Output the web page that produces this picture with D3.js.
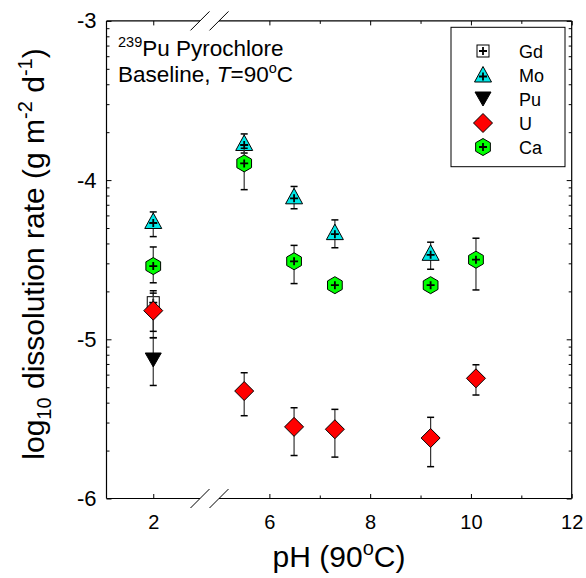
<!DOCTYPE html>
<html><head><meta charset="utf-8">
<script src="https://cdn.jsdelivr.net/npm/d3@7/dist/d3.min.js"></script>
<style>body{margin:0;background:#fff} svg{display:block} text{font-family:"Liberation Sans", Arial, sans-serif}</style>
</head><body><svg id="c" width="586" height="578"></svg>
<script>
// ---------- data (log10 dissolution rate, g m^-2 d^-1) ----------
const gdPH = [2.0];
const gdRate = [-4.77];
const gdHi = [-4.695];
const gdLo = [-4.99];

const moPH = [2.0, 5.5, 6.49, 7.3, 9.2];
const moRate = [-4.26, -3.77, -4.105, -4.33, -4.46];
const moHi = [-4.20, -3.71, -4.04, -4.25, -4.39];
const moLo = [-4.355, -3.83, -4.18, -4.425, -4.56];

const puPH = [2.0];
const puRate = [-5.13];
const puHi = [-4.99];
const puLo = [-5.29];

const uPH = [2.0, 5.5, 6.49, 7.3, 9.2, 10.1];
const uRate = [-4.82, -5.325, -5.55, -5.565, -5.62, -5.245];
const uHi = [-4.71, -5.21, -5.43, -5.44, -5.49, -5.16];
const uLo = [-4.95, -5.48, -5.73, -5.74, -5.80, -5.35];

const caPH = [2.0, 5.5, 6.49, 7.3, 9.2, 10.1];
const caRate = [-4.54, -3.895, -4.51, -4.66, -4.66, -4.50];
const caHi = [-4.42, -3.80, -4.41, null, null, -4.365];
const caLo = [-4.645, -4.06, -4.65, null, null, -4.69];

const seriesNames = ["Gd", "Mo", "Pu", "U", "Ca"];
const xTicksLeft = [2];
const xTicksRight = [6, 8, 10, 12];
const xMinorRight = [7, 9, 11];
const yTicks = [-6, -5, -4, -3];
const yDecades = [-6, -5, -4];
const yMinorMult = [2, 3, 4, 5, 6, 7, 8, 9];

// ---------- layout ----------
const svg = d3.select("#c");
const plot = {left: 106.5, right: 571.7, top: 20.9, bottom: 498.5};
const breakStart = 200, breakEnd = 219;
const xL = d3.scaleLinear().domain([1, 3]).range([plot.left, breakStart]);
const xR = d3.scaleLinear().domain([5, 12]).range([breakEnd, plot.right]);
const x = v => v <= 3 ? xL(v) : xR(v);
const y = d3.scaleLinear().domain([-6, -3]).range([plot.bottom, plot.top]);
const yMinor = [];
yDecades.forEach(d => yMinorMult.forEach(k => yMinor.push(d + Math.log10(k))));

const FONT = '"Liberation Sans", Arial, sans-serif';
function styleAxis(g, fs) {
  g.select(".domain").remove();
  g.attr("font-family", FONT).attr("font-size", fs);
  g.selectAll("line").attr("stroke", "#000").attr("stroke-width", 1);
  g.selectAll("text").attr("fill", "#000");
}

// x axes (bottom)
const xb = svg.append("g").attr("transform", `translate(0,${plot.bottom})`);
xb.append("g").call(d3.axisBottom(xL).tickValues(xTicksLeft).tickSize(-4.5).tickPadding(16).tickFormat(d3.format("d"))).call(g => styleAxis(g, 20));
xb.append("g").call(d3.axisBottom(xR).tickValues(xTicksRight).tickSize(-4.5).tickPadding(16).tickFormat(d3.format("d"))).call(g => styleAxis(g, 20));
xb.append("g").call(d3.axisBottom(xR).tickValues(xMinorRight).tickSize(-3).tickFormat("")).call(g => styleAxis(g, 20));
// x axes (top)
const xt = svg.append("g").attr("transform", `translate(0,${plot.top})`);
xt.append("g").call(d3.axisTop(xL).tickValues(xTicksLeft).tickSize(-4.5).tickFormat("")).call(g => styleAxis(g, 20));
xt.append("g").call(d3.axisTop(xR).tickValues(xTicksRight).tickSize(-4.5).tickFormat("")).call(g => styleAxis(g, 20));
xt.append("g").call(d3.axisTop(xR).tickValues(xMinorRight).tickSize(-3).tickFormat("")).call(g => styleAxis(g, 20));

// y axes
const yl = svg.append("g").attr("transform", `translate(${plot.left},0)`);
yl.append("g").call(d3.axisLeft(y).tickValues(yTicks).tickSize(-5).tickPadding(10).tickFormat(d => String(d))).call(g => styleAxis(g, 22));
yl.append("g").call(d3.axisLeft(y).tickValues(yMinor).tickSize(-3).tickFormat("")).call(g => styleAxis(g, 22));
const yr = svg.append("g").attr("transform", `translate(${plot.right},0)`);
yr.append("g").call(d3.axisRight(y).tickValues(yTicks).tickSize(-5).tickFormat("")).call(g => styleAxis(g, 22));
yr.append("g").call(d3.axisRight(y).tickValues(yMinor).tickSize(-3).tickFormat("")).call(g => styleAxis(g, 22));

// frame with break
const frame = svg.append("g").attr("stroke", "#000").attr("stroke-width", 1.2).attr("fill", "none");
frame.append("line").attr("x1", plot.left).attr("x2", plot.left).attr("y1", plot.top).attr("y2", plot.bottom);
frame.append("line").attr("x1", plot.right).attr("x2", plot.right).attr("y1", plot.top).attr("y2", plot.bottom);
[plot.top, plot.bottom].forEach(yy => {
  frame.append("line").attr("x1", plot.left).attr("x2", breakStart).attr("y1", yy).attr("y2", yy);
  frame.append("line").attr("x1", breakEnd).attr("x2", plot.right).attr("y1", yy).attr("y2", yy);
  [breakStart, breakEnd].forEach(bx => {
    frame.append("line").attr("x1", bx - 9.5).attr("y1", yy + 9.5).attr("x2", bx + 9.5).attr("y2", yy - 9.5).attr("stroke-width", 1);
  });
});

// ---------- markers ----------
const colors = {Gd: "#ffffff", Mo: "#00e6e6", Pu: "#000000", U: "#ff0000", Ca: "#00ff00"};
function drawMarker(g, name) {
  let shape, plusDy = 0, plus = true;
  if (name === "Gd") {
    shape = g.append("rect").attr("x", -6).attr("y", -6).attr("width", 12).attr("height", 12);
  } else if (name === "Mo") {
    shape = g.append("path").attr("d", "M0,-8.5L8.5,7L-8.5,7Z"); plusDy = 1.5;
  } else if (name === "Pu") {
    shape = g.append("path").attr("d", "M-8,-7L8,-7L0,7Z"); plus = false;
  } else if (name === "U") {
    shape = g.append("path").attr("d", "M0,-9.5L9.5,0L0,9.5L-9.5,0Z"); plus = false;
  } else {
    const r = 8.5, c = r * Math.cos(Math.PI / 6), s = r / 2;
    shape = g.append("path").attr("d", `M0,${-r}L${c},${-s}L${c},${s}L0,${r}L${-c},${s}L${-c},${-s}Z`);
  }
  shape.attr("fill", colors[name]).attr("stroke", "#000").attr("stroke-width", 1);
  if (plus) {
    g.append("path").attr("d", `M-4,${plusDy}H4M0,${plusDy - 4}V${plusDy + 4}`)
      .attr("stroke", "#000").attr("stroke-width", 1.8).attr("fill", "none");
  }
}

const seriesList = [
  {name: "Gd", ph: gdPH, rate: gdRate, hi: gdHi, lo: gdLo},
  {name: "Mo", ph: moPH, rate: moRate, hi: moHi, lo: moLo},
  {name: "Pu", ph: puPH, rate: puRate, hi: puHi, lo: puLo},
  {name: "U", ph: uPH, rate: uRate, hi: uHi, lo: uLo},
  {name: "Ca", ph: caPH, rate: caRate, hi: caHi, lo: caLo}
];

const marks = svg.append("g");
seriesList.forEach(s => {
  const g = marks.append("g");
  s.ph.forEach((p, i) => {
    const cx = x(p);
    if (s.hi[i] != null && s.lo[i] != null) {
      const eb = g.append("g").attr("stroke", "#000");
      eb.append("line").attr("x1", cx).attr("x2", cx).attr("y1", y(s.hi[i])).attr("y2", y(s.lo[i])).attr("stroke", "#333").attr("stroke-width", 1.2);
      [s.hi[i], s.lo[i]].forEach(v => eb.append("line").attr("x1", cx - 3.5).attr("x2", cx + 3.5).attr("y1", y(v)).attr("y2", y(v)).attr("stroke-width", 1.5));
    }
  });
  s.ph.forEach((p, i) => {
    drawMarker(g.append("g").attr("transform", `translate(${x(p)},${y(s.rate[i])})`), s.name);
  });
});

// ---------- legend ----------
const lg = svg.append("g");
lg.append("rect").attr("x", 451).attr("y", 27.3).attr("width", 114).attr("height", 139.4)
  .attr("fill", "#fff").attr("stroke", "#000").attr("stroke-width", 1);
seriesNames.forEach((n, i) => {
  const yy = 51 + i * 24;
  drawMarker(lg.append("g").attr("transform", `translate(483,${yy})`), n);
  lg.append("text").attr("x", 519).attr("y", yy + 6.5).attr("font-size", 18).text(n);
});

// ---------- annotation ----------
const a1 = svg.append("text").attr("x", 118).attr("y", 56).attr("font-size", 22.5);
a1.append("tspan").attr("font-size", 14.5).attr("dy", -9).text("239");
a1.append("tspan").attr("dy", 9).text("Pu Pyrochlore");
const a2 = svg.append("text").attr("x", 118).attr("y", 82).attr("font-size", 22.5);
a2.append("tspan").text("Baseline, ");
a2.append("tspan").attr("font-style", "italic").text("T");
a2.append("tspan").text("=90");
a2.append("tspan").attr("font-size", 14.5).attr("dy", -9).text("o");
a2.append("tspan").attr("dy", 9).text("C");

// ---------- axis titles ----------
const xtitle = svg.append("text").attr("x", 339).attr("y", 567).attr("text-anchor", "middle").attr("font-size", 30);
xtitle.append("tspan").text("pH (90");
xtitle.append("tspan").attr("font-size", 20).attr("dy", -12).text("o");
xtitle.append("tspan").attr("dy", 12).text("C)");

const ytitle = svg.append("text").attr("transform", "translate(44,254) rotate(-90)").attr("text-anchor", "middle").attr("font-size", 30);
ytitle.append("tspan").text("log");
ytitle.append("tspan").attr("font-size", 20).attr("dy", 7).text("10");
ytitle.append("tspan").attr("dy", -7).text(" dissolution rate (g m");
ytitle.append("tspan").attr("font-size", 20).attr("dy", -12).text("-2");
ytitle.append("tspan").attr("dy", 12).text(" d");
ytitle.append("tspan").attr("font-size", 20).attr("dy", -12).text("-1");
ytitle.append("tspan").attr("dy", 12).text(")");
</script></body></html>
